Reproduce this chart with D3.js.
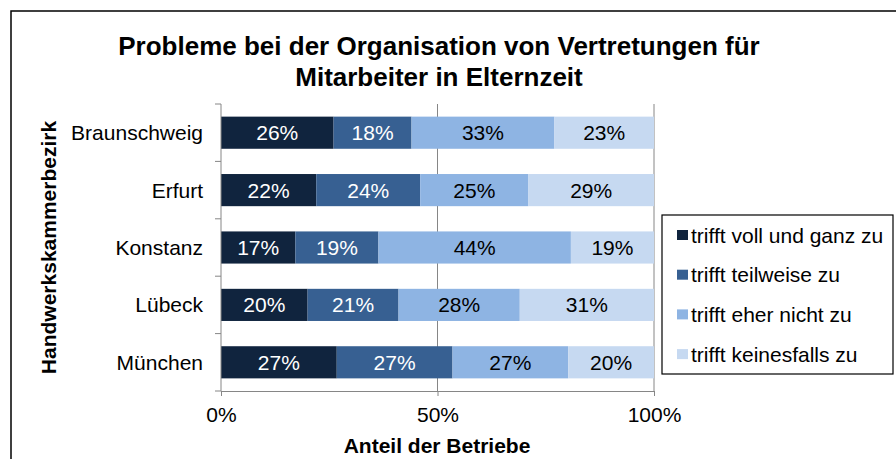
<!DOCTYPE html>
<html>
<head>
<meta charset="utf-8">
<script src="https://cdn.jsdelivr.net/npm/d3@7"></script>
<style>
  body { margin: 0; background: #fff; }
  svg { font-family: "Liberation Sans", Arial, sans-serif; }
</style>
</head>
<body>
<svg id="chart" width="896" height="459"></svg>
<script>
const categories = ['Braunschweig', 'Erfurt', 'Konstanz', 'Lübeck', 'München'];
const seriesNames = ['trifft voll und ganz zu', 'trifft teilweise zu', 'trifft eher nicht zu', 'trifft keinesfalls zu'];
const vollUndGanz = [26, 22, 17, 20, 27];
const teilweise = [18, 24, 19, 21, 27];
const eherNicht = [33, 25, 44, 28, 27];
const keinesfalls = [23, 29, 19, 31, 20];
const xTicks = [0, 0.5, 1];
const colors = ['#10243e', '#376092', '#8eb4e3', '#c6d9f1'];
const labelColors = ['#fff', '#fff', '#000', '#000'];

const svg = d3.select('#chart');
const margin = { top: 104, left: 221, right: 242, bottom: 68 };
const W = 896, H = 459;
const fs = 21;

// chart frame
svg.append('rect').attr('x', 11).attr('y', 11).attr('width', 900).attr('height', 460)
  .attr('fill', 'none').attr('stroke', '#000').attr('stroke-width', 1.5);

// title
svg.append('text').attr('x', 439).attr('y', 55).attr('text-anchor', 'middle')
  .attr('font-size', 26).attr('font-weight', 'bold')
  .selectAll('tspan').data(['Probleme bei der Organisation von Vertretungen für', 'Mitarbeiter in Elternzeit'])
  .enter().append('tspan').attr('x', 439).attr('dy', (d, i) => i ? 31 : 0).text(d => d);

const table = categories.map((c, i) => {
  const vals = [vollUndGanz[i], teilweise[i], eherNicht[i], keinesfalls[i]];
  const total = d3.sum(vals);
  const row = { name: c };
  vals.forEach((v, k) => { row['s' + k] = v / total; row['v' + k] = v; });
  return row;
});
const keys = ['s0', 's1', 's2', 's3'];
const stacked = d3.stack().keys(keys)(table);

const x = d3.scaleLinear().domain([0, 1]).range([margin.left, W - margin.right]);
const y = d3.scaleBand().domain(categories).range([margin.top, H - margin.bottom]).paddingInner(0.44).paddingOuter(0.22);

// gridlines
svg.append('g').selectAll('line').data([0.5, 1]).enter().append('line')
  .attr('x1', d => x(d)).attr('x2', d => x(d))
  .attr('y1', margin.top).attr('y2', H - margin.bottom)
  .attr('stroke', '#868686').attr('stroke-width', 1);

// bars
const groups = svg.append('g').selectAll('g').data(stacked).enter().append('g')
  .attr('fill', (d, i) => colors[i]);
groups.selectAll('rect').data(d => d).enter().append('rect')
  .attr('x', d => x(d[0]))
  .attr('y', d => y(d.data.name))
  .attr('width', d => x(d[1]) - x(d[0]))
  .attr('height', y.bandwidth());

groups.each(function (s, i) {
  d3.select(this).selectAll('text').data(s).enter().append('text')
    .attr('x', d => (x(d[0]) + x(d[1])) / 2)
    .attr('y', d => y(d.data.name) + y.bandwidth() / 2)
    .attr('dy', '0.36em').attr('text-anchor', 'middle')
    .attr('font-size', fs).attr('fill', labelColors[i])
    .text(d => d.data['v' + i] + '%');
});

// y axis with ticks on band boundaries
const yAxisG = svg.append('g').attr('transform', `translate(${margin.left},0)`);
yAxisG.append('line').attr('x1', 0).attr('x2', 0).attr('y1', margin.top).attr('y2', H - margin.bottom)
  .attr('stroke', '#868686');
const bounds = d3.range(categories.length + 1).map(i => margin.top + i * (H - margin.bottom - margin.top) / categories.length);
yAxisG.selectAll('.tick').data(bounds).enter().append('line')
  .attr('x1', -6).attr('x2', 0).attr('y1', d => d).attr('y2', d => d).attr('stroke', '#868686');
yAxisG.selectAll('.lbl').data(categories).enter().append('text')
  .attr('x', -18).attr('y', d => y(d) + y.bandwidth() / 2).attr('dy', '0.36em')
  .attr('text-anchor', 'end').attr('font-size', fs).text(d => d);

// x axis
const xAxis = d3.axisBottom(x).tickValues(xTicks).tickFormat(d3.format('.0%')).tickSizeOuter(0).tickSize(5);
const gx = svg.append('g').attr('transform', `translate(0,${H - margin.bottom})`).call(xAxis);
gx.select('.domain').attr('stroke', '#868686');
gx.selectAll('.tick line').attr('stroke', '#868686');
gx.selectAll('.tick text').attr('font-size', fs).attr('font-family', 'Liberation Sans, Arial, sans-serif')
  .attr('fill', '#000').attr('y', 31).attr('dy', 0);

// axis titles
svg.append('text').attr('x', 437).attr('y', 453).attr('text-anchor', 'middle')
  .attr('font-size', fs).attr('font-weight', 'bold').text('Anteil der Betriebe');
svg.append('text').attr('transform', `translate(56,${(margin.top + H - margin.bottom) / 2}) rotate(-90)`)
  .attr('text-anchor', 'middle').attr('font-size', fs).attr('font-weight', 'bold').text('Handwerkskammerbezirk');

// legend
const lg = svg.append('g').attr('transform', 'translate(662,215)');
lg.append('rect').attr('width', 231).attr('height', 159).attr('fill', '#fff').attr('stroke', '#000').attr('stroke-width', 1.2);
const items = lg.selectAll('g').data(seriesNames).enter().append('g')
  .attr('transform', (d, i) => `translate(15,${20 + i * 39.7})`);
items.append('rect').attr('x', 0).attr('y', -5).attr('width', 11).attr('height', 10).attr('fill', (d, i) => colors[i]);
items.append('text').attr('x', 14).attr('dy', '0.36em').attr('font-size', fs).text(d => d);
</script>
</body>
</html>
